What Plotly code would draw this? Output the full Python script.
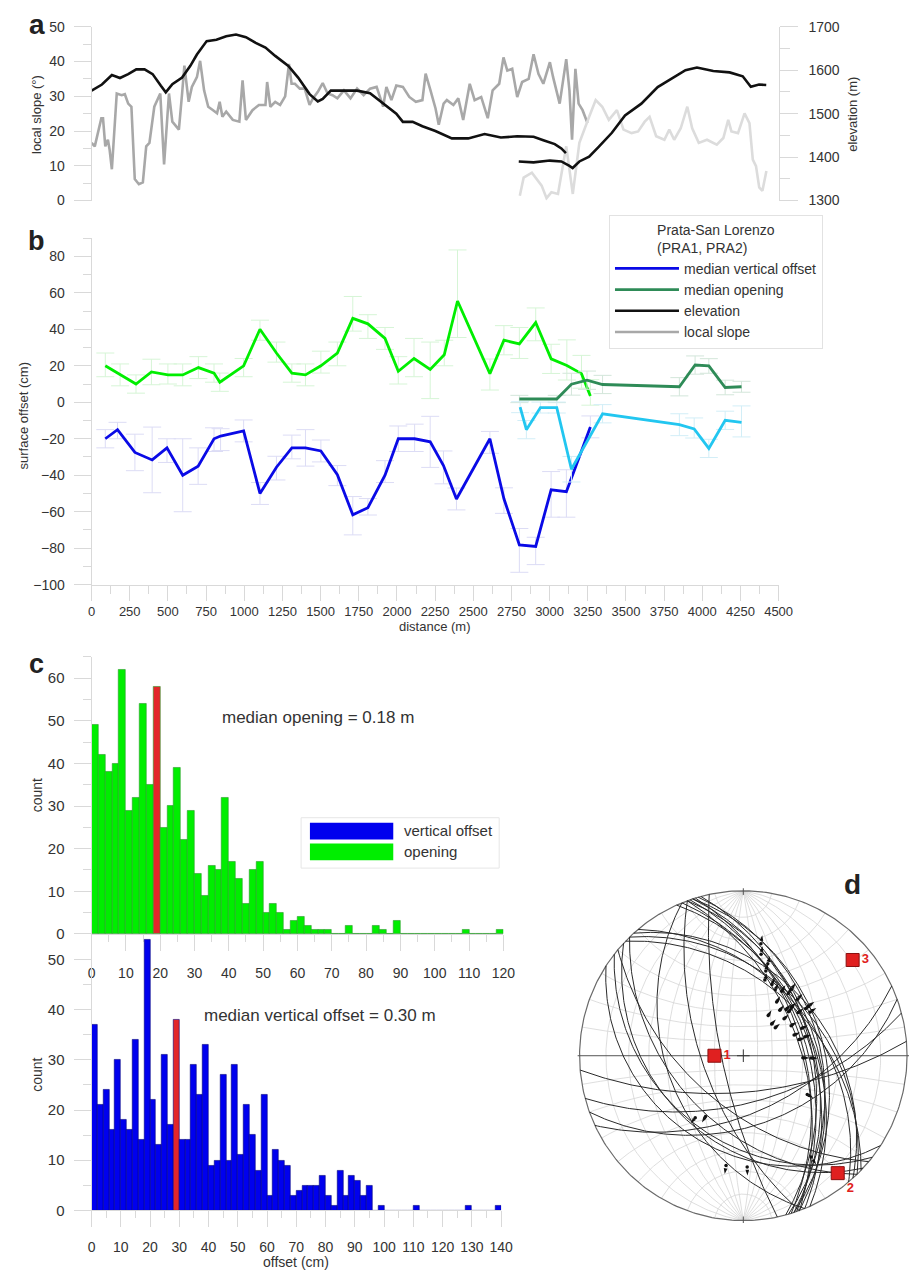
import numpy as np
import plotly.graph_objects as go

W, H = 924, 1278
def px(X): return X / W
def py(Y): return 1 - Y / H

FONT = "Liberation Sans, Arial, sans-serif"
TXT = "#333333"
LC = "#d9d9d9"

# ---------------- panel a : elevation and local slope ----------------
elev1_dist = [0, 68, 133, 186, 240, 293, 347, 400, 454, 486,
              529, 593, 647, 690, 754, 818, 882, 946, 1011, 1075,
              1139, 1203, 1289, 1353, 1428, 1482, 1514, 1567, 1632, 1739,
              1824, 1910, 1996, 2039, 2103, 2167, 2252, 2360, 2467, 2574,
              2681, 2788, 2895, 2959, 3034, 3077, 3107]
elev1_m = [1553, 1567, 1589, 1582, 1591, 1602, 1602, 1591, 1564, 1549,
           1568, 1583, 1610, 1636, 1667, 1670, 1678, 1682, 1676, 1663,
           1652, 1633, 1610, 1583, 1545, 1528, 1534, 1553, 1553, 1553,
           1547, 1523, 1500, 1481, 1481, 1471, 1460, 1443, 1443, 1453,
           1445, 1448, 1447, 1439, 1430, 1420, 1409]
elev2_dist = [2798, 2895, 3002, 3077, 3130, 3151, 3195, 3259, 3323, 3408,
              3494, 3601, 3708, 3815, 3890, 3965, 4072, 4179, 4265, 4318,
              4372, 4419]
elev2_m = [1390, 1388, 1392, 1390, 1380, 1375, 1390, 1401, 1424, 1456,
           1496, 1523, 1561, 1583, 1600, 1606, 1598, 1595, 1586, 1562,
           1567, 1566]
slope1_dist = [0, 21, 64, 75, 90, 107, 118, 133, 165, 197,
               218, 240, 261, 283, 310, 336, 358, 379, 411, 450,
               475, 507, 529, 572, 593, 608, 636, 657, 690, 711,
               737, 764, 796, 822, 839, 857, 882, 925, 968, 989,
               1011, 1054, 1096, 1139, 1150, 1171, 1203, 1235, 1268, 1293,
               1310, 1332, 1364, 1396, 1428, 1450, 1482, 1514, 1546, 1578,
               1610, 1653, 1696, 1739, 1782, 1824, 1867, 1910, 1931, 1964,
               1996, 2039, 2081, 2124, 2167, 2188, 2220, 2253, 2274, 2306,
               2327, 2370, 2402, 2434, 2477, 2509, 2552, 2595, 2627, 2670,
               2698, 2723, 2755, 2788, 2820, 2863, 2895, 2927, 2959, 3002,
               3023, 3066, 3109, 3130, 3147, 3169, 3190, 3216, 3248]
slope1_deg = [16.6, 15.6, 23.7, 23.7, 15.6, 17.5, 14.7, 9.0, 30.8, 30.3,
              30.6, 27.9, 27.0, 6.2, 4.7, 5.2, 15.6, 16.6, 27.0, 30.8,
              10.4, 30.8, 22.7, 20.4, 30.8, 38.8, 28.4, 32.7, 35.5, 40.2,
              31.7, 27.0, 26.0, 25.1, 28.4, 24.1, 25.6, 23.2, 22.7, 34.6,
              23.2, 26.0, 27.5, 27.5, 34.1, 27.0, 28.4, 27.5, 30.0, 39.3,
              33.6, 33.6, 32.2, 32.2, 27.5, 29.4, 31.3, 33.8, 30.8, 30.3,
              29.4, 31.7, 29.4, 32.2, 30.3, 32.2, 32.7, 27.0, 32.7, 28.9,
              33.1, 32.7, 29.8, 28.4, 28.9, 36.5, 31.7, 26.5, 21.8, 27.9,
              28.9, 27.5, 29.4, 23.2, 33.6, 28.9, 29.8, 23.7, 31.7, 33.6,
              41.2, 37.4, 37.9, 29.8, 34.1, 35.0, 42.1, 36.5, 33.6, 39.8,
              35.5, 27.9, 40.7, 31.7, 17.5, 37.9, 27.9, 26.0, 22.3]
slope2_dist = [2805, 2830, 2884, 2916, 2948, 2980, 3012, 3055, 3083, 3109,
               3152, 3195, 3259, 3302, 3345, 3388, 3441, 3484, 3537, 3580,
               3623, 3655, 3698, 3752, 3784, 3816, 3859, 3902, 3934, 3977,
               4031, 4095, 4138, 4170, 4191, 4234, 4277, 4309, 4331, 4352,
               4373, 4394, 4420]
slope2_deg = [1.4, 6.6, 8.0, 6.2, 4.3, 0.7, 2.4, 1.9, 9.0, 15.6,
              1.9, 16.6, 24.1, 28.9, 27.0, 23.2, 26.0, 20.4, 19.4, 19.9,
              22.7, 24.1, 18.5, 17.5, 20.4, 17.5, 20.8, 27.0, 20.8, 16.6,
              17.5, 16.1, 18.0, 23.2, 19.9, 19.4, 25.1, 22.3, 11.8, 9.9,
              3.8, 2.8, 8.5]

# ---------------- panel b : surface offsets ----------------
open1_dist = [90, 187, 291, 392, 500, 597, 700, 802, 840, 996,
              1103, 1211, 1312, 1401, 1502, 1610, 1711, 1810, 1922, 2009,
              2112, 2218, 2310, 2397, 2609, 2701, 2802, 2909, 3010, 3113,
              3209, 3267]
open1_cm = [20, 15, 10, 16.6, 15, 15, 19, 16, 11, 20,
            40, 27, 16, 15, 20, 27, 46, 43, 35, 17,
            24, 18, 26, 55.5, 15.7, 34, 32, 43.7, 23.8, 20.2,
            15.7, 3.4]
open1_up = [7, 6, 5, 7, 6, 6, 6, 5, 5, 4, 5, 6, 5, 6, 8, 6, 12, 5, 6, 8,
            11, 15, 8, 28, 8, 8, 9, 8, 8, 14, 10, 9]
open1_dn = [6, 6, 5, 7, 5, 6, 6, 5, 5, 6, 6, 5, 5, 6, 4, 7, 7, 8, 6, 7,
            10, 16, 6, 20, 9, 8, 8, 10, 8, 8, 8, 5]
vert1_dist = [90, 170, 284, 397, 494, 597, 698, 802, 845, 996,
              1103, 1211, 1312, 1401, 1502, 1610, 1711, 1810, 1922, 2009,
              2116, 2218, 2305, 2390, 2609, 2701, 2802, 2909, 3010, 3110,
              3267]
vert1_cm = [-20, -15, -27.5, -31.6, -25, -40, -35, -20, -18.5, -15.7,
            -50, -35.6, -25, -25, -26.7, -39.7, -61.7, -57.8, -40, -20,
            -20, -21.7, -34.7, -53, -20, -52.9, -78.2, -79, -48, -49,
            -13.5]
vert1_up = [5, 4, 10, 18, 5, 20, 10, 6, 4, 6, 6, 6, 7, 10, 6, 5, 10, 5, 8, 7,
            8, 14, 8, 6, 4, 6, 9, 5, 10, 12, 6]
vert1_dn = [5, 5, 10, 18, 8, 20, 10, 7, 8, 6, 6, 7, 6, 10, 6, 6, 11, 4, 4, 7,
            7, 14, 10, 6, 8, 8, 15, 10, 15, 14, 6]
vert2_dist = [2807, 2848, 2940, 3047, 3143, 3347, 3850, 3947, 4043, 4150, 4257]
vert2_cm = [-2.7, -15, -2.9, -2.9, -36.7, -6.3, -12.3, -14.6, -25.3, -9.9, -11]
vert2_up = [3, 5, 3, 3, 7, 5, 6, 6, 5, 5, 9]
vert2_dn = [3, 5, 3, 3, 7, 5, 6, 5, 5, 5, 8]
open2_dist = [2802, 3047, 3143, 3245, 3347, 3850, 3953, 4043, 4150, 4257]
open2_cm = [1.8, 1.8, 9.9, 12.1, 9.75, 8.5, 20.4, 19.9, 8.1, 8.5]
open2_up = [2, 2, 6, 5, 5, 5, 5, 4, 4, 3]
open2_dn = [2, 2, 6, 5, 5, 5, 5, 4, 4, 3]

# ---------------- panel c : histograms (2 cm bins) ----------------
bin_cm = 2
open_counts = [49, 42, 38, 40, 62, 29, 32, 54, 35, 58,
               25, 30, 39, 22, 29, 14, 9, 16, 15, 32,
               17, 13, 7, 15, 17, 5, 7, 5, 1, 3,
               4, 2, 1, 1, 1, 0, 0, 2, 0, 0,
               0, 2, 1, 0, 3, 0, 0, 0, 0, 0,
               0, 0, 0, 0, 1, 0, 0, 0, 0, 1]
vert_counts = [37, 21, 24, 16, 30, 18, 16, 34, 14, 54,
               22, 13, 31, 17, 38, 14, 14, 29, 23, 33,
               9, 10, 27, 10, 29, 11, 21, 15, 8, 23,
               3, 12, 10, 9, 3, 4, 5, 5, 5, 7,
               3, 1, 8, 3, 7, 6, 3, 5, 0, 1,
               0, 0, 0, 0, 0, 1, 0, 0, 0, 0,
               0, 0, 0, 0, 1, 0, 0, 0, 0, 1]
median_bin_open_cm = 18
median_bin_vert_cm = 28
open_ticks = list(range(0, 121, 10))
vert_ticks = list(range(0, 141, 10))

# ---------------- panel d : stereonet ----------------
fault_dipdir = [70, 72, 68, 74, 71, 73, 66, 75, 70, 72,
                46, 44, 48, 50,
                223, 226, 220, 213, 218,
                160, 165, 175, 155,
                248, 250, 258]
fault_dip = [42, 44, 46, 40, 48, 50, 44, 45, 52, 38,
             40, 44, 37, 42,
             35, 45, 55, 30, 36,
             44, 58, 65, 52,
             40, 62, 75]
lin_trend = [9, 10, 15, 15, 16, 22, 26, 31, 36, 32, 39, 43, 45, 52, 49, 48, 58,
             65, 73, 74, 92, 92, 121, 146, 218, 212, 189, 178, 36, 44, 53, 32,
             42, 68, 46, 57, 53]
lin_plunge = [21, 26, 30, 34, 39, 40, 42, 41, 40, 48, 51, 48, 45, 44, 61, 53, 52,
              47, 47, 51, 50, 45, 41, 17, 39, 43, 22, 22, 37, 39, 39, 58,
              61, 53, 48, 38, 37]
stress_trend = [270, 141, 49]
stress_plunge = [70, 5, 7]
stress_label = ["1", "2", "3"]

# ---------------- colours ----------------
C_GREEN = "#00ee00"
C_BLUE = "#0a0ae6"
C_CYAN = "#22c6f0"
C_DGREEN = "#2e8b57"
C_RED = "#e3262a"

fig = go.Figure()

# panel a
fig.add_trace(go.Scatter(x=slope1_dist, y=slope1_deg, mode="lines", xaxis="x", yaxis="y",
                         line=dict(color="#a8a8a8", width=2.6), name="local slope",
                         legendrank=4))
fig.add_trace(go.Scatter(x=slope2_dist, y=slope2_deg, mode="lines", xaxis="x", yaxis="y",
                         line=dict(color="#dcdcdc", width=2.6), showlegend=False))
fig.add_trace(go.Scatter(x=elev1_dist, y=elev1_m, mode="lines", xaxis="x", yaxis="y2",
                         line=dict(color="#111111", width=2.6), name="elevation",
                         legendrank=3))
fig.add_trace(go.Scatter(x=elev2_dist, y=elev2_m, mode="lines", xaxis="x", yaxis="y2",
                         line=dict(color="#111111", width=2.6), showlegend=False))

# panel b
def err(up, dn, col):
    return dict(type="data", symmetric=False, array=up, arrayminus=dn,
                color=col, thickness=1, width=9)

fig.add_trace(go.Scatter(x=open1_dist, y=open1_cm, mode="lines", xaxis="x2", yaxis="y3",
                         line=dict(color=C_GREEN, width=2.8),
                         error_y=err(open1_up, open1_dn, "#d6f5d6"), showlegend=False))
fig.add_trace(go.Scatter(x=vert1_dist, y=vert1_cm, mode="lines", xaxis="x2", yaxis="y3",
                         line=dict(color=C_BLUE, width=2.8),
                         error_y=err(vert1_up, vert1_dn, "#dcdcf5"),
                         name="median vertical offset", legendrank=1))
fig.add_trace(go.Scatter(x=open2_dist, y=open2_cm, mode="lines", xaxis="x2", yaxis="y3",
                         line=dict(color=C_DGREEN, width=2.8),
                         error_y=err(open2_up, open2_dn, "#d3e6da"),
                         name="median opening", legendrank=2))
fig.add_trace(go.Scatter(x=vert2_dist, y=vert2_cm, mode="lines", xaxis="x2", yaxis="y3",
                         line=dict(color=C_CYAN, width=2.8),
                         error_y=err(vert2_up, vert2_dn, "#d2eef7"), showlegend=False))

# panel c
open_left = np.arange(len(open_counts)) * bin_cm
vert_left = np.arange(len(vert_counts)) * bin_cm
open_cols = [C_RED if l == median_bin_open_cm else C_GREEN for l in open_left]
vert_cols = [C_RED if l == median_bin_vert_cm else "#0000ee" for l in vert_left]
fig.add_trace(go.Bar(x=open_left + bin_cm / 2, y=open_counts, width=bin_cm, xaxis="x3", yaxis="y4",
                     marker=dict(color=open_cols, line=dict(color="#2a9a2a", width=0.6)),
                     showlegend=False))
fig.add_trace(go.Bar(x=vert_left + bin_cm / 2, y=vert_counts, width=bin_cm, xaxis="x4", yaxis="y5",
                     marker=dict(color=vert_cols, line=dict(color="#00007a", width=0.6)),
                     showlegend=False))

# panel d : equal-angle lower-hemisphere projection
def wulff(n, e, d):
    return e / (1 + d), n / (1 + d)

def line_xy(trend, plunge):
    t, p = np.radians(np.asarray(trend, float)), np.radians(np.asarray(plunge, float))
    return wulff(np.cos(p) * np.cos(t), np.cos(p) * np.sin(t), np.sin(p))

def plane_xy(dipdir, dip, num=181):
    a, b = np.radians(dipdir), np.radians(dip)
    s = np.array([np.cos(a - np.pi / 2), np.sin(a - np.pi / 2), 0.0])
    dv = np.array([np.cos(b) * np.cos(a), np.cos(b) * np.sin(a), np.sin(b)])
    t = np.linspace(0, np.pi, num)
    v = np.outer(np.cos(t), s) + np.outer(np.sin(t), dv)
    return wulff(v[:, 0], v[:, 1], np.clip(v[:, 2], 0, None))

def join(curves):
    xs, ys = [], []
    for cx, cy in curves:
        xs += list(cx) + [None]
        ys += list(cy) + [None]
    return xs, ys

grid = []
for dd in (90, 270):
    for dp in range(10, 90, 10):
        grid.append(plane_xy(dd, dp))
ss = np.linspace(0, np.pi, 181)
for ang in list(range(10, 90, 10)) + list(range(100, 180, 10)):
    a = np.radians(ang)
    grid.append(wulff(np.full_like(ss, np.cos(a)), np.sin(a) * np.cos(ss), np.sin(a) * np.sin(ss)))
gx, gy = join(grid)
fig.add_trace(go.Scatter(x=gx, y=gy, mode="lines", xaxis="x5", yaxis="y6",
                         line=dict(color="#d6d6d6", width=0.8), showlegend=False, hoverinfo="skip"))
th = np.linspace(0, 2 * np.pi, 361)
fig.add_trace(go.Scatter(x=np.cos(th), y=np.sin(th), mode="lines", xaxis="x5", yaxis="y6",
                         line=dict(color="#6a6a6a", width=1.2), showlegend=False, hoverinfo="skip"))
fig.add_trace(go.Scatter(x=[-1.012, 1.012, None, 0, 0, None, 0, 0],
                         y=[0, 0, None, 0.975, 1.02, None, -0.975, -1.02], mode="lines",
                         xaxis="x5", yaxis="y6", line=dict(color="#555555", width=1),
                         showlegend=False, hoverinfo="skip"))
fig.add_trace(go.Scatter(x=[0], y=[0], mode="markers", xaxis="x5", yaxis="y6",
                         marker=dict(symbol="cross-thin", size=9, line=dict(color="#333", width=1)),
                         showlegend=False, hoverinfo="skip"))
fx, fy = join([plane_xy(a, b) for a, b in zip(fault_dipdir, fault_dip)])
fig.add_trace(go.Scatter(x=fx, y=fy, mode="lines", xaxis="x5", yaxis="y6",
                         line=dict(color="#2a2a2a", width=1), showlegend=False, hoverinfo="skip"))
lx, ly = line_xy(lin_trend, lin_plunge)
ax_, ay_ = line_xy(lin_trend, np.array(lin_plunge) - 4)
fig.add_trace(go.Scatter(x=lx, y=ly, mode="markers", xaxis="x5", yaxis="y6",
                         marker=dict(color="#111", size=3.5), showlegend=False))
fig.add_trace(go.Scatter(x=ax_, y=ay_, mode="markers", xaxis="x5", yaxis="y6",
                         marker=dict(color="#111", size=6, symbol="arrow", angle=lin_trend),
                         showlegend=False))
sx, sy = line_xy(stress_trend, stress_plunge)
fig.add_trace(go.Scatter(x=sx, y=sy, mode="markers+text", xaxis="x5", yaxis="y6",
                         text=stress_label, textposition=["middle right", "bottom right", "middle right"],
                         textfont=dict(family=FONT, size=13, color="#e02020", weight="bold"),
                         marker=dict(symbol="square", size=13, color="#e02020",
                                     line=dict(color="#8a1010", width=1)),
                         showlegend=False))

# ---------------- axes ----------------
def axis(**kw):
    base = dict(showline=True, linecolor=LC, linewidth=1, ticks="outside", tickcolor=LC,
                tickwidth=1, showgrid=False, zeroline=False, fixedrange=True,
                tickfont=dict(family=FONT, size=14, color=TXT))
    base.update(kw)
    return base

def minor(dt, ln):
    return dict(ticks="outside", dtick=dt, ticklen=ln, tickcolor=LC, showgrid=False)

A_X = [px(89.3), px(790)]
fig.update_layout(
    width=W, height=H, margin=dict(l=0, r=0, t=0, b=0),
    paper_bgcolor="white", plot_bgcolor="rgba(0,0,0,0)", bargap=0,
    font=dict(family=FONT, color=TXT),
    xaxis=dict(domain=A_X, range=[0, 4500], visible=False, anchor="y", fixedrange=True),
    yaxis=axis(domain=[py(195), py(19)], range=[0, 50], dtick=10, ticklen=17,
               minor=minor(5, 8), anchor="x", ticklabelstandoff=6),
    yaxis2=axis(domain=[py(195), py(19)], range=[1300, 1700], dtick=100, ticklen=18,
                minor=minor(50, 10), overlaying="y", side="right", anchor="x",
                ticklabelstandoff=8),
    xaxis2=axis(domain=A_X, range=[0, 4500], dtick=250, ticklen=15, minor=minor(125, 8),
                anchor="y3", tickfont=dict(family=FONT, size=13, color=TXT)),
    yaxis3=axis(domain=[py(584), py(233)], range=[-100, 90], tick0=-100, dtick=20, ticklen=17,
                minor=dict(ticks="outside", tick0=-90, dtick=10, ticklen=8, tickcolor=LC),
                anchor="x2", ticklabelstandoff=6),
    xaxis3=axis(domain=[px(89.3), px(509.3)], range=[0, 120], tickvals=open_ticks, ticklen=16,
                minor=minor(5, 7), anchor="y4", ticklabelstandoff=10),
    yaxis4=axis(domain=[py(937.7), py(657)], range=[0, 65], dtick=10, ticklen=17,
                minor=minor(5, 8), anchor="x3", ticklabelstandoff=6,
                tickfont=dict(family=FONT, size=15, color=TXT)),
    xaxis4=axis(domain=[px(89.3), px(507)], range=[0, 140], tickvals=vert_ticks, ticklen=16,
                minor=minor(5, 7), anchor="y5", ticklabelstandoff=8),
    yaxis5=axis(domain=[py(1217.7), py(940.5)], range=[0, 54.5], tickvals=[0, 10, 20, 30, 40, 50],
                ticklen=17, minor=minor(5, 8), anchor="x4", ticklabelstandoff=6,
                tickfont=dict(family=FONT, size=15, color=TXT)),
    xaxis5=dict(domain=[px(584.5), px(923.5)], range=[-1.015, 1.015], visible=False,
                anchor="y6", fixedrange=True),
    yaxis6=dict(domain=[py(1230.5), py(891.5)], range=[-1.015, 1.015], visible=False,
                anchor="x5", fixedrange=True),
    legend=dict(x=px(617), y=py(210), xanchor="left", yanchor="top",
                bordercolor="#e2e2e2", borderwidth=1, bgcolor="white",
                font=dict(family=FONT, size=14, color=TXT), itemwidth=64,
                title=dict(text="Prata-San Lorenzo<br>(PRA1, PRA2)", side="top center",
                           font=dict(family=FONT, size=14, color=TXT))),
)

# ---------------- texts ----------------
ann = []
def text(X, Y, s, size=14, angle=0, anchor="center", bold=False, color=TXT):
    ann.append(dict(x=px(X), y=py(Y), xref="paper", yref="paper", text=s, showarrow=False,
                    textangle=angle, xanchor=anchor, yanchor="middle",
                    font=dict(family=FONT, size=size, color=color,
                              weight="bold" if bold else "normal")))

text(34, 17, "a", 28, bold=True, color="#222")
text(33, 236, "b", 27, bold=True, color="#222")
text(33, 664, "c", 27, bold=True, color="#222")
text(865, 888, "d", 28, bold=True, color="#222")
text(33, 108, "local slope (°)", 13, angle=-90)
text(866, 108, "elevation (m)", 13, angle=-90)
text(20, 413, "surface offset (cm)", 13, angle=-90)
text(440, 626, "distance (m)", 13)
text(34, 797, "count", 14, angle=-90)
text(34, 1080, "count", 14, angle=-90)
text(320, 718, "median opening = 0.18 m", 17)
text(322, 1020, "median vertical offset = 0.30 m", 17)
text(298, 1270, "offset (cm)", 14)
text(406, 833, "vertical offset", 15, anchor="left")
text(406, 854, "opening", 15, anchor="left")

shapes = [
    dict(type="rect", xref="paper", yref="paper", x0=px(303), x1=px(505), y0=py(871), y1=py(820),
         line=dict(color="#e6e6e6", width=1), fillcolor="white", layer="above"),
    dict(type="rect", xref="paper", yref="paper", x0=px(312), x1=px(397), y0=py(842), y1=py(825),
         line=dict(width=0), fillcolor="#0000ee", layer="above"),
    dict(type="rect", xref="paper", yref="paper", x0=px(312), x1=px(397), y0=py(863), y1=py(846),
         line=dict(width=0), fillcolor=C_GREEN, layer="above"),
]
fig.update_layout(annotations=ann, shapes=shapes)

fig.write_html("out.html", config={"displayModeBar": False},
               post_script="document.body.style.margin='0px';document.body.style.overflow='hidden';")
